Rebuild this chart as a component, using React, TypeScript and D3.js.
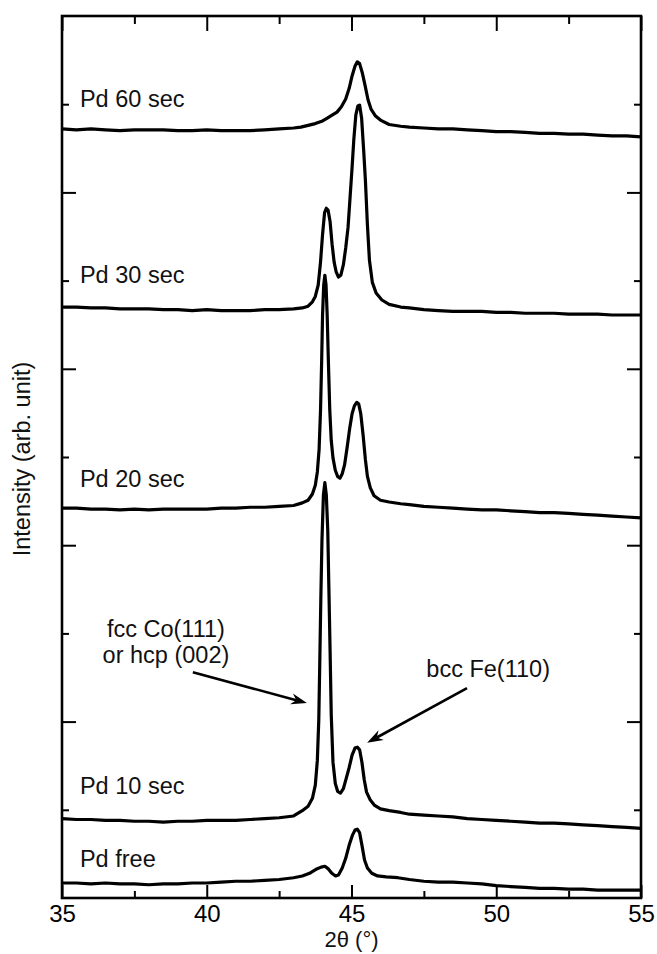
import React, { useEffect, useRef } from 'react';
import * as d3 from 'd3';

type Pt = [number, number]; // [2theta (deg), intensity (arb. unit)]

const pdFree: Pt[] = [
  [35.0, 17], [35.5, 17], [36.0, 16], [36.5, 17], [37.0, 16], [37.5, 16], [38.0, 15],
  [38.5, 16], [39.0, 16], [39.5, 17], [40.0, 17], [40.5, 18], [41.0, 19], [41.5, 19],
  [42.0, 20], [42.5, 21], [43.0, 23], [43.3, 25], [43.55, 28], [43.8, 33], [43.95, 35],
  [44.08, 36], [44.2, 33], [44.32, 28], [44.45, 25], [44.55, 26], [44.68, 34], [44.8, 45],
  [44.92, 60], [45.03, 71], [45.12, 77], [45.2, 78], [45.28, 74], [45.36, 60], [45.45, 43],
  [45.55, 34], [45.7, 28], [45.9, 25], [46.2, 24], [46.6, 23], [47.0, 21], [47.5, 19],
  [48.0, 18], [48.5, 18], [49.0, 17], [49.5, 16], [50.0, 14], [50.5, 13], [51.0, 12],
  [51.5, 11], [52.0, 11], [52.5, 10], [53.0, 10], [53.5, 9], [54.0, 9], [54.5, 9], [55.0, 9],
];

const pd10: Pt[] = [
  [35.0, 90], [35.5, 89], [36.0, 89], [36.5, 88], [37.0, 88], [37.5, 87], [38.0, 87],
  [38.5, 86], [39.0, 87], [39.5, 87], [40.0, 88], [40.5, 88], [41.0, 88], [41.5, 89],
  [42.0, 90], [42.5, 91], [43.0, 93], [43.3, 99], [43.5, 104], [43.65, 113], [43.75, 128],
  [43.82, 156], [43.87, 202], [43.9, 259], [43.94, 338], [43.98, 406], [44.03, 457],
  [44.08, 471], [44.13, 457], [44.18, 417], [44.22, 349], [44.26, 281], [44.3, 208],
  [44.36, 154], [44.44, 130], [44.52, 121], [44.62, 119], [44.72, 124], [44.82, 136],
  [44.92, 148], [45.02, 162], [45.12, 170], [45.2, 171], [45.28, 168], [45.36, 154],
  [45.44, 134], [45.52, 120], [45.65, 111], [45.8, 105], [46.0, 101], [46.3, 99], [46.7, 97],
  [47.0, 95], [47.5, 94], [48.0, 93], [48.5, 92], [49.0, 90], [49.5, 89], [50.0, 88],
  [50.5, 87], [51.0, 86], [51.5, 85], [52.0, 85], [52.5, 84], [53.0, 83], [53.5, 82],
  [54.0, 81], [54.5, 80], [55.0, 79],
];

const pd20: Pt[] = [
  [35.0, 442], [35.5, 442], [36.0, 441], [36.5, 441], [37.0, 440], [37.5, 441], [38.0, 440],
  [38.5, 441], [39.0, 441], [39.5, 441], [40.0, 441], [40.5, 442], [41.0, 442], [41.5, 443],
  [42.0, 443], [42.5, 444], [43.0, 445], [43.3, 448], [43.5, 451], [43.65, 458], [43.75, 468],
  [43.82, 483], [43.88, 508], [43.93, 553], [43.97, 610], [44.0, 661], [44.04, 695],
  [44.08, 706], [44.12, 695], [44.16, 661], [44.2, 610], [44.25, 553], [44.3, 519],
  [44.36, 499], [44.44, 485], [44.52, 478], [44.6, 476], [44.68, 481], [44.76, 491],
  [44.85, 511], [44.94, 533], [45.02, 549], [45.1, 558], [45.18, 562], [45.25, 560],
  [45.32, 549], [45.4, 525], [45.48, 497], [45.55, 478], [45.65, 465], [45.78, 456],
  [46.0, 451], [46.3, 449], [46.7, 447], [47.0, 446], [47.5, 444], [48.0, 443], [48.5, 442],
  [49.0, 441], [49.5, 440], [50.0, 440], [50.5, 439], [51.0, 438], [51.5, 437], [52.0, 437],
  [52.5, 436], [53.0, 435], [53.5, 434], [54.0, 433], [54.5, 432], [55.0, 431],
];

const pd30: Pt[] = [
  [35.0, 670], [35.5, 670], [36.0, 669], [36.5, 669], [37.0, 668], [37.5, 668], [38.0, 668],
  [38.5, 667], [39.0, 667], [39.5, 666], [40.0, 667], [40.5, 666], [41.0, 666], [41.5, 666],
  [42.0, 667], [42.5, 667], [43.0, 668], [43.3, 669], [43.5, 671], [43.65, 676], [43.75, 682],
  [43.85, 695], [43.93, 721], [44.0, 752], [44.07, 777], [44.13, 782], [44.19, 780],
  [44.26, 767], [44.33, 741], [44.4, 721], [44.47, 710], [44.55, 704], [44.63, 706],
  [44.72, 718], [44.8, 737], [44.88, 760], [44.95, 794], [45.02, 828], [45.08, 860],
  [45.15, 888], [45.22, 898], [45.28, 899], [45.35, 884], [45.42, 848], [45.48, 814],
  [45.55, 763], [45.62, 723], [45.72, 698], [45.85, 686], [46.05, 678], [46.3, 673],
  [46.7, 670], [47.0, 669], [47.5, 667], [48.0, 666], [48.5, 665], [49.0, 665], [49.5, 665],
  [50.0, 664], [50.5, 664], [51.0, 663], [51.5, 663], [52.0, 663], [52.5, 662], [53.0, 662],
  [53.5, 662], [54.0, 661], [54.5, 661], [55.0, 661],
];

const pd60: Pt[] = [
  [35.0, 872], [35.5, 871], [36.0, 872], [36.5, 871], [37.0, 870], [37.5, 871], [38.0, 871],
  [38.5, 871], [39.0, 870], [39.5, 870], [40.0, 871], [40.5, 870], [41.0, 870], [41.5, 870],
  [42.0, 871], [42.5, 872], [43.0, 873], [43.25, 874], [43.5, 876], [43.75, 878], [44.0, 881],
  [44.15, 884], [44.3, 887], [44.5, 891], [44.65, 897], [44.8, 906], [44.92, 918], [45.02, 932],
  [45.12, 943], [45.2, 948], [45.28, 946], [45.37, 936], [45.47, 921], [45.57, 905], [45.68, 894],
  [45.82, 887], [46.0, 882], [46.3, 877], [46.7, 875], [47.0, 874], [47.5, 873], [48.0, 872],
  [48.5, 872], [49.0, 871], [49.5, 870], [50.0, 869], [50.5, 869], [51.0, 868], [51.5, 867],
  [52.0, 867], [52.5, 866], [53.0, 866], [53.5, 865], [54.0, 864], [54.5, 864], [55.0, 863],
];

const seriesData: Pt[][] = [pdFree, pd10, pd20, pd30, pd60];
const seriesNames = ['Pd free', 'Pd 10 sec', 'Pd 20 sec', 'Pd 30 sec', 'Pd 60 sec'];
const seriesLabelPos: Pt[] = [[35.62, 35], [35.62, 118], [35.62, 466], [35.62, 697], [35.62, 897]];

const xMajor = [35, 40, 45, 50, 55];
const xMinor = [37.5, 42.5, 47.5, 52.5];
const yMajor = [200, 400, 600, 800];
const yMinor = [100, 300, 500, 700, 900];

// annotations: text lines and arrows (from -> tip) in data coordinates
const noteLines = ['fcc Co(111)', 'or hcp (002)', 'bcc Fe(110)'];
const notePos: Pt[] = [[38.59, 296], [38.59, 266], [49.72, 251]];
const arrows: [Pt, Pt][] = [
  [[39.52, 256], [43.46, 221]],
  [[48.99, 238], [45.54, 176]],
];

const W = 657;
const H = 954;
const margin = { top: 16, right: 16, bottom: 56, left: 62 };
const FONT = '"Liberation Sans", Arial, Helvetica, sans-serif';

export default function App() {
  const ref = useRef<SVGSVGElement>(null);

  useEffect(() => {
    const svg = d3.select(ref.current);
    svg.selectAll('*').remove();
    const width = W - margin.left - margin.right;
    const height = H - margin.top - margin.bottom;

    const x = d3.scaleLinear().domain([35, 55]).range([0, width]);
    const y = d3.scaleLinear().domain([0, 1000]).range([height, 0]);

    const chart = svg.append('g').attr('transform', `translate(${margin.left},${margin.top})`);

    const styleAxis = (sel: any) => {
      sel.select('.domain').remove();
      sel.selectAll('line').attr('stroke', '#000').attr('stroke-width', 2);
      sel.attr('font-family', FONT).attr('font-size', 24);
    };
    const none = () => '';

    // x axes (ticks point inward)
    chart.append('g').attr('transform', `translate(0,${height})`)
      .call(d3.axisBottom(x).tickValues(xMajor).tickSize(-13).tickPadding(7).tickFormat(d3.format('d')))
      .call(styleAxis);
    chart.append('g').attr('transform', `translate(0,${height})`)
      .call(d3.axisBottom(x).tickValues(xMinor).tickSize(-7).tickFormat(none))
      .call(styleAxis);
    chart.append('g')
      .call(d3.axisTop(x).tickValues(xMajor).tickSize(-15).tickFormat(none))
      .call(styleAxis);
    chart.append('g')
      .call(d3.axisTop(x).tickValues(xMinor).tickSize(-8).tickFormat(none))
      .call(styleAxis);

    // y axes
    chart.append('g')
      .call(d3.axisLeft(y).tickValues(yMajor).tickSize(-14).tickFormat(none))
      .call(styleAxis);
    chart.append('g')
      .call(d3.axisLeft(y).tickValues(yMinor).tickSize(-7).tickFormat(none))
      .call(styleAxis);
    chart.append('g').attr('transform', `translate(${width},0)`)
      .call(d3.axisRight(y).tickValues(yMajor).tickSize(-14).tickFormat(none))
      .call(styleAxis);
    chart.append('g').attr('transform', `translate(${width},0)`)
      .call(d3.axisRight(y).tickValues(yMinor).tickSize(-7).tickFormat(none))
      .call(styleAxis);

    // frame
    chart.append('rect')
      .attr('width', width).attr('height', height)
      .attr('fill', 'none').attr('stroke', '#000').attr('stroke-width', 2.6);

    const line = d3.line<Pt>().x((d) => x(d[0])).y((d) => y(d[1]));

    chart.selectAll('.serie')
      .data(seriesData)
      .enter().append('path')
      .attr('class', 'serie')
      .attr('fill', 'none')
      .attr('stroke', '#000')
      .attr('stroke-width', 3.2)
      .attr('stroke-linejoin', 'round')
      .attr('d', line);

    chart.selectAll('.serie-label')
      .data(seriesNames)
      .enter().append('text')
      .attr('class', 'serie-label')
      .attr('x', (d, i) => x(seriesLabelPos[i][0]))
      .attr('y', (d, i) => y(seriesLabelPos[i][1]))
      .attr('font-family', FONT)
      .attr('font-size', 23.5)
      .attr('fill', '#111')
      .text((d) => d);

    chart.selectAll('.note')
      .data(noteLines)
      .enter().append('text')
      .attr('class', 'note')
      .attr('x', (d, i) => x(notePos[i][0]))
      .attr('y', (d, i) => y(notePos[i][1]))
      .attr('text-anchor', 'middle')
      .attr('font-family', FONT)
      .attr('font-size', 23.5)
      .attr('fill', '#111')
      .text((d) => d);

    // arrows
    arrows.forEach(([from, to]) => {
      const x1 = x(from[0]); const y1 = y(from[1]);
      const x2 = x(to[0]); const y2 = y(to[1]);
      const ang = Math.atan2(y2 - y1, x2 - x1);
      const len = 16; const half = 5.5; const notch = 11;
      const ux = Math.cos(ang); const uy = Math.sin(ang);
      const bx = x2 - ux * len; const by = y2 - uy * len;
      chart.append('line')
        .attr('x1', x1).attr('y1', y1)
        .attr('x2', x2 - ux * notch).attr('y2', y2 - uy * notch)
        .attr('stroke', '#000').attr('stroke-width', 2.6);
      chart.append('path')
        .attr('d', `M${x2},${y2}L${bx - uy * half},${by + ux * half}L${x2 - ux * notch},${y2 - uy * notch}L${bx + uy * half},${by - ux * half}Z`)
        .attr('fill', '#000');
    });

    // axis titles
    svg.append('text')
      .attr('transform', `translate(30,${margin.top + height / 2 + 2}) rotate(-90)`)
      .attr('text-anchor', 'middle')
      .attr('font-family', FONT)
      .attr('font-size', 23.5)
      .attr('fill', '#111')
      .text('Intensity (arb. unit)');

    svg.append('text')
      .attr('x', margin.left + width / 2)
      .attr('y', 947)
      .attr('text-anchor', 'middle')
      .attr('font-family', FONT)
      .attr('font-size', 22)
      .attr('fill', '#111')
      .text('2θ (°)');
  }, []);

  return (
    <svg
      ref={ref}
      width={W}
      height={H}
      style={{ position: 'absolute', left: 0, top: 0, background: '#fff' }}
    />
  );
}
